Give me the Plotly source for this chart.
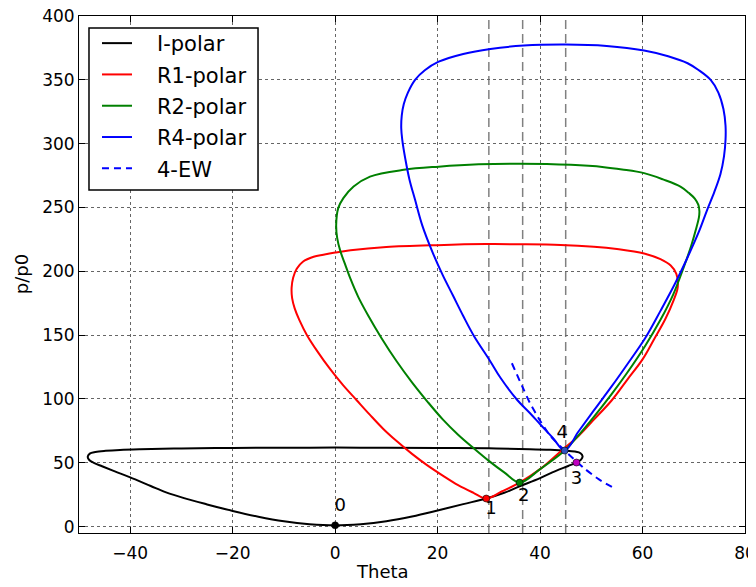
import plotly.graph_objects as go

# ---------------- data ----------------
i_theta = [0, 5, 10, 15, 20, 25, 29.5, 33, 36, 40, 43, 45.5, 47.1, 48, 48.3, 47.9, 46.8, 44.8,
           42, 38, 30, 20, 10, 0, -10, -20, -30, -38, -42, -44.8, -46.8, -47.9, -48.3,
           -48, -47.1, -45.5, -43, -40, -36, -33, -29.5, -25, -20, -15, -10, -5, 0]
i_p = [1, 1.9, 4.2, 7.9, 12.6, 17.6, 22, 26.5, 31.5, 38, 43.5, 47.5, 50.2, 52.5, 55, 57.5, 58.8, 59.6,
       60.2, 60.7, 61.3, 61.6, 61.8, 61.9, 61.8, 61.6, 61.2, 60.6, 60.1, 59.4, 58.5, 57.2, 54.6,
       52.2, 50, 47.3, 43.3, 38.6, 31.8, 26.8, 22.3, 17.4, 12.3, 7.8, 4.2, 1.9, 1]

r1_theta = [29.5, 32.5, 36, 40, 44, 47.5, 50.5, 54, 57, 60, 62.2, 64.5, 66.1, 66.8, 66.9, 66.6,
            65.5, 63.5, 60.3, 55, 50.5, 44, 36, 29.5, 19.9, 10, 3, 0, -2.3, -4.2, -6.3, -7.5,
            -8.2, -8.5, -8.4, -7.9, -7, -5.5, -3.5, -1, 1.5, 4.2, 6.8, 9.4, 12, 15, 18, 21,
            24, 27, 29.5]
r1_p = [22, 27.5, 34.5, 45, 58.9, 71, 83.8, 99, 115, 131, 146.4, 163, 177.7, 186, 191, 198,
        204.5, 209.5, 214, 217.5, 219.3, 220.7, 221.2, 221.3, 220.5, 219, 216.5, 214.7, 213, 211.4, 207.5, 202,
        195, 187, 179, 171, 162, 150, 137.5, 123.5, 111, 99, 87.5, 76.5, 67, 57, 48, 40,
        32.5, 26.5, 22]

r2_theta = [36, 40, 44.8, 47.5, 50.5, 54, 57, 60.5, 63.5, 66, 68.1, 69.5, 70.4, 71, 71.1, 70.9,
            70.2, 69, 67.4, 64, 60.3, 56, 52.5, 46, 36, 28, 20.2, 13.4, 6.8, 3.6, 1.6, 0.6,
            0.2, 0.4, 1, 1.8, 3, 4.5, 6.5, 9, 12, 15, 18, 21, 24, 27, 30, 33, 36]
r2_p = [34.5, 45, 59.6, 71.5, 86, 104, 120.5, 141.5, 162, 182, 203.8, 220, 232.5, 242, 247, 252,
        257, 261.5, 266.4, 272, 276.9, 279.8, 281.6, 283.4, 284.3, 283.8, 282, 279.5, 274.2, 266.4, 257.3, 249.5,
        236.4, 226, 216, 207, 194, 180, 165, 148, 129.5, 113, 98, 84, 72, 61.5, 51.5, 42.5, 34.5]

r4_theta = [44.8, 47.5, 50.5, 54, 57, 60.5, 63.5, 66.3, 68.8, 71, 72.6, 74, 75.2, 75.9, 76.2,
            76.2, 75.8, 74.8, 73.3, 71, 68.8, 65, 60.3, 53, 45, 36.8, 30.3, 25, 20.2, 17.5,
            15.6, 14.2, 13.4, 13, 12.9, 13.1, 13.7, 14.5, 15.6, 17, 19, 21, 23, 25, 27,
            30.3, 32.3, 35.5, 38, 40.1, 42.5, 44.8]
r4_p = [59.6, 74.5, 91, 110, 127, 147.5, 169, 190, 211, 231, 248, 262, 276, 290, 303,
        314, 327, 340, 349.9, 357.5, 363, 368.5, 373, 376.5, 377.6, 376.8, 374.2, 370.3, 364.2, 357.5,
        350, 340, 331, 322, 312, 303, 288, 272, 256, 236, 215, 197, 181, 165, 150,
        129.4, 116.4, 99.4, 89, 79.8, 69.5, 59.6]

ew_theta = [34.5, 36.5, 38, 40, 42, 44.8, 48.5, 51.5, 54.7]
ew_p = [128, 110, 97, 83, 71, 59.6, 46, 37, 29.5]

wedge_angles = [30, 36.6, 45]

state_theta = [0, 29.5, 36, 47.1, 44.8]
state_p = [1, 22, 34.5, 50.2, 59.6]
state_names = ["0", "1", "2", "3", "4"]
state_colors = ["#000000", "#ff0000", "#008000", "#bf00bf", "#3050c0"]
label_theta = [1.0, 30.4, 36.8, 47.1, 44.3]
label_p = [16, 13.3, 23.7, 36.8, 73.3]

x_ticks = [-40, -20, 0, 20, 40, 60, 80]
y_ticks = [0, 50, 100, 150, 200, 250, 300, 350, 400]

# ---------------- figure ----------------
FONT = "DejaVu Sans"
PAD = "\u00a0"
fig = go.Figure()

polars = [
    ("I-polar", i_theta, i_p, "#000000"),
    ("R1-polar", r1_theta, r1_p, "#ff0000"),
    ("R2-polar", r2_theta, r2_p, "#008000"),
    ("R4-polar", r4_theta, r4_p, "#0000ff"),
]
for name, tx, py, col in polars:
    fig.add_trace(go.Scatter(x=tx, y=py, mode="lines", name=PAD * 3 + name, legendgroup=name,
                             line=dict(color=col, width=2, shape="spline", smoothing=1.0)))

fig.add_trace(go.Scatter(x=ew_theta, y=ew_p, mode="lines", name=PAD * 3 + "4-EW", legendgroup="4-EW",
                         line=dict(color="#0000ff", width=2, dash="7px,5px", shape="spline", smoothing=0.6)))

fig.add_trace(go.Scatter(x=state_theta, y=state_p, mode="markers", showlegend=False,
                         marker=dict(color=state_colors, size=7, line=dict(color="#000000", width=0.6))))
fig.add_trace(go.Scatter(x=label_theta, y=label_p, mode="text", text=state_names, showlegend=False,
                         textfont=dict(family=FONT, size=18, color="#000000")))

for a in wedge_angles:
    fig.add_shape(type="line", xref="x", yref="paper", x0=a, x1=a, y0=0, y1=1,
                  line=dict(color="#808080", width=1.5, dash="9px,5px"), layer="below")

# legend frame (white box with black border)
fig.add_shape(type="rect", xref="paper", yref="paper", x0=0.015, x1=0.2688, y0=0.6634, y1=0.9768,
              line=dict(color="#000000", width=1.5), fillcolor="#ffffff", layer="above")

axis_common = dict(showline=True, linecolor="#000000", linewidth=1, mirror="ticks",
                   ticks="inside", ticklen=6, tickcolor="#000000", tickwidth=1,
                   showgrid=True, gridcolor="#666666", gridwidth=1, griddash="dot",
                   zeroline=False, automargin=False, ticklabeloverflow="allow",
                   tickfont=dict(family=FONT, size=17, color="#000000"))

fig.update_xaxes(range=[-50, 80], tickvals=x_ticks, ticklabelstandoff=5,
                 ticktext=[f"\u2212{abs(v)}" if v < 0 else str(v) for v in x_ticks], **axis_common)
fig.update_yaxes(range=[-5, 400], tickvals=y_ticks, **axis_common)

fig.add_annotation(text="Theta", xref="paper", yref="paper", x=0.456, y=-0.075,
                   xanchor="center", yanchor="middle",
                   showarrow=False, font=dict(family=FONT, size=18, color="#000000"))
fig.add_annotation(text="p/p0", xref="paper", yref="paper", x=-0.086, y=0.5, textangle=-90,
                   xanchor="center", yanchor="middle",
                   showarrow=False, font=dict(family=FONT, size=18, color="#000000"))

# the page body adds an 8px offset at top/left, so the figure is 8px smaller and
# the left/top margins are reduced by the same amount
fig.update_layout(
    width=748, height=579,
    margin=dict(l=71, r=11, t=8, b=54),
    paper_bgcolor="#ffffff", plot_bgcolor="#ffffff",
    font=dict(family=FONT, color="#000000"),
    legend=dict(x=0.027, y=0.9865, xanchor="left", yanchor="top",
                bgcolor="rgba(0,0,0,0)", borderwidth=0,
                font=dict(family=FONT, size=21, color="#000000"),
                tracegroupgap=1, traceorder="grouped", itemwidth=30),
)

fig.write_html("out.html")
